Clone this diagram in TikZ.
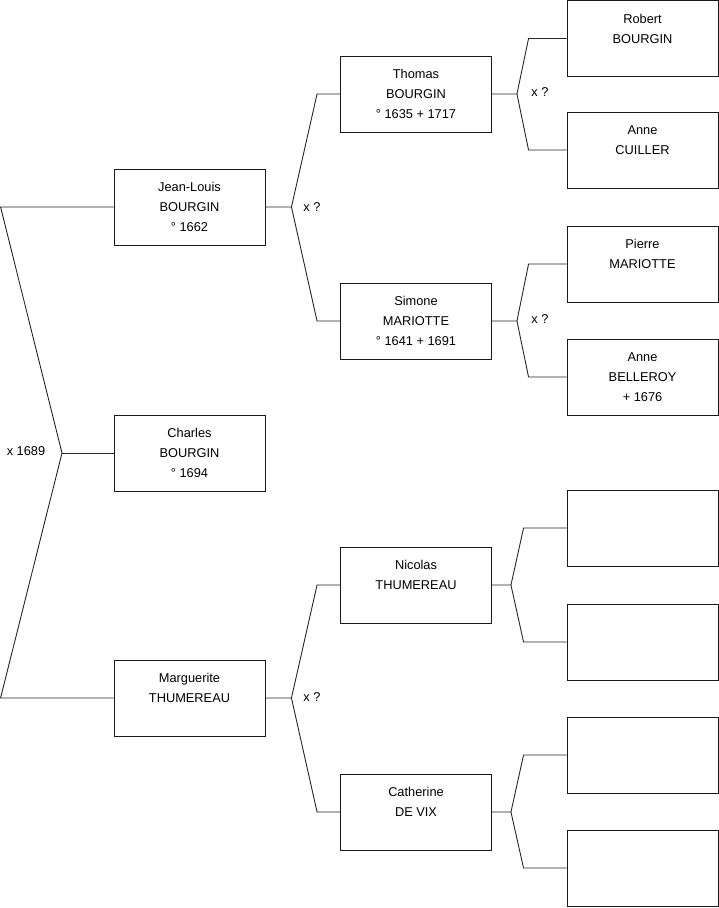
\documentclass[tikz,border=0pt]{standalone}
\usepackage{fontspec}
\setmainfont{Liberation Sans}

\begin{document}
\begin{tikzpicture}[x=1pt,y=-1pt,
  person/.style={draw=black!90,line width=0.9pt,fill=white,minimum width=151pt,
    minimum height=76pt,inner sep=0pt,align=center,
    font=\fontsize{12.8}{20}\selectfont},
  link/.style={draw=black!85,line width=0.9pt},
  mariage/.style={inner sep=0pt,font=\fontsize{12.8}{20}\selectfont}]
\useasboundingbox (0,0) rectangle (719,908);

% generation 1
\node[person] (jl) at (189.5,207) {Jean-Louis\\BOURGIN\\° 1662};
\node[person] (charles) at (189.5,453) {Charles\\BOURGIN\\° 1694};
\node[person] (marg) at (189.5,698) {Marguerite\\THUMEREAU\\~};

% generation 2
\node[person] (thomas) at (416,94) {Thomas\\BOURGIN\\° 1635 + 1717};
\node[person] (simone) at (416,321) {Simone\\MARIOTTE\\° 1641 + 1691};
\node[person] (nicolas) at (416,585) {Nicolas\\THUMEREAU\\~};
\node[person] (cath) at (416,812) {Catherine\\DE VIX\\~};

% generation 3
\node[person] (robert) at (642.5,38.5) {Robert\\BOURGIN\\~};
\node[person] (anneC) at (642.5,150) {Anne\\CUILLER\\~};
\node[person] (pierre) at (642.5,264) {Pierre\\MARIOTTE\\~};
\node[person] (anneB) at (642.5,377) {Anne\\BELLEROY\\+ 1676};
\foreach \i/\y in {1/528,2/642,3/755,4/868}
  \node[person] (e\i) at (642.5,\y) {};

% root fork
\coordinate (f0) at (62,453);
\draw[link] (jl.west) -- ++(-113,0) -- (f0) -- ([xshift=-113pt]marg.west) -- (marg.west);
\draw[link] (f0) -- (charles.west);
\node[mariage] (m0) at (26,451) {x 1689};

% parents
\foreach \p/\a/\b in {jl/thomas/simone, marg/nicolas/cath} {
  \draw[link] (\p.east) -- ++(26,0) coordinate (f\p)
    -- ([xshift=-23pt]\a.west) -- (\a.west);
  \draw[link] (f\p) -- ([xshift=-23pt]\b.west) -- (\b.west);
}
\node[mariage] (m1) at (312,207) {x ?};
\node[mariage] (m2) at (312,697) {x ?};

% grand-parents
\foreach \p/\a/\b in {thomas/robert/anneC, simone/pierre/anneB} {
  \draw[link] (\p.east) -- ++(25,0) coordinate (f\p)
    -- ([xshift=-38pt]\a.west) -- (\a.west);
  \draw[link] (f\p) -- ([xshift=-38pt]\b.west) -- (\b.west);
}
\foreach \p/\a/\b in {nicolas/e1/e2, cath/e3/e4} {
  \draw[link] (\p.east) -- ++(19,0) coordinate (f\p)
    -- ([xshift=-43pt]\a.west) -- (\a.west);
  \draw[link] (f\p) -- ([xshift=-43pt]\b.west) -- (\b.west);
}
\node[mariage] (m3) at (540,92) {x ?};
\node[mariage] (m4) at (540,319) {x ?};
\end{tikzpicture}
\end{document}
